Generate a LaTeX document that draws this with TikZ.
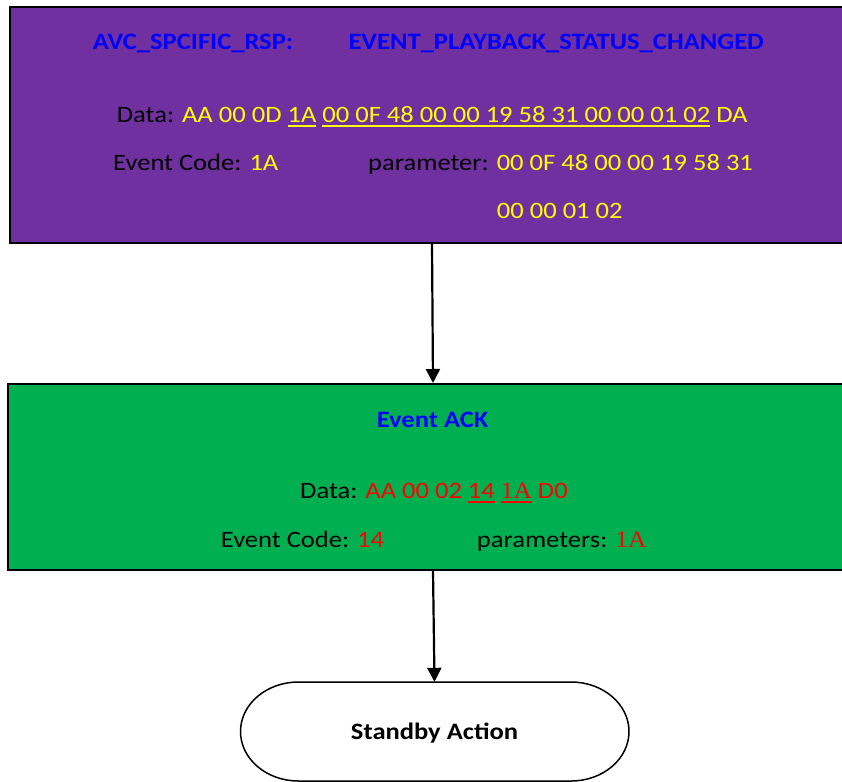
\documentclass[tikz,border=0pt]{standalone}
\usepackage{fontspec}
\setmainfont{Carlito}[FakeStretch=1.13]
\newfontfamily\tnr{Liberation Serif}[FakeStretch=1.08]
\usetikzlibrary{arrows.meta}
\definecolor{boxpurple}{HTML}{7030A0}
\definecolor{boxgreen}{HTML}{00B050}
\definecolor{txtyellow}{HTML}{FFFF00}
\definecolor{txtred}{HTML}{FF0000}
\definecolor{txtblue}{HTML}{0000FF}
\newcommand\sz{\fontsize{23.5}{28}\selectfont}
\newcommand\myul[2]{\setbox0\hbox{#2}\rlap{\color{#1}\rule[-5pt]{\wd0}{2.2pt}}\box0\relax}
\begin{document}
\begin{tikzpicture}[x=1pt,y=-1pt,
  boxpanel/.style={draw=black, line width=2pt, rectangle, inner sep=0pt, anchor=north},
  txt/.style={anchor=base west, inner sep=0pt, font=\sz},
  btxt/.style={txt, font=\sz\bfseries},
  conn/.style={line width=2.2pt, -{Triangle[length=14pt,width=14pt]}}]
\useasboundingbox (0,0) rectangle (842,781);
\clip (0,0) rectangle (842,781);
% boxes
\node[boxpanel, fill=boxpurple, minimum width=844pt, minimum height=236pt] (rsp) at (432,6) {};
\node[boxpanel, fill=boxgreen, minimum width=850pt, minimum height=186pt] (ack) at (433,383) {};
% terminator
\draw[line width=1.5pt, fill=white] (298.5,682) -- (571,682)
  arc[start angle=90, end angle=-90, x radius=58pt, y radius=49.5pt]
  -- (298.5,781)
  arc[start angle=270, end angle=90, x radius=58pt, y radius=49.5pt] -- cycle;
\node[inner sep=0pt, minimum width=389pt, minimum height=99pt, text height=16pt, text depth=0pt, font=\sz\bfseries] (sa) at (434.5,731.5) {Standby Action};
% connectors
\draw[conn] (rsp.south) -- (ack.north);
\draw[conn] (ack.south) -- (sa.north);
% purple texts
\node[btxt, text=txtblue] (t1) at (92.7,50) {AVC\_SPCIFIC\_RSP:};
\node[btxt, text=txtblue] (t2) at (348.3,50) {EVENT\_PLAYBACK\_STATUS\_CHANGED};
\node[txt] (t3) at (116.7,122) {Data: {\color{txtyellow}AA 00 0D \myul{txtyellow}{1A} \myul{txtyellow}{00 0F 48 00 00 19 58 31 00 00 01 02} DA}};
\node[txt] (t4) at (113,170) {Event Code: {\color{txtyellow}1A}};
\node[txt] (t5) at (368,170) {parameter: {\color{txtyellow}00 0F 48 00 00 19 58 31}};
\node[txt, text=txtyellow] (t6) at (496.7,218) {00 00 01 02};
% green texts
\node[btxt, text=txtblue] (t7) at (376.7,427) {Event ACK};
\node[txt] (t8) at (300,498) {Data: {\color{txtred}AA 00 02 \myul{txtred}{14} \myul{txtred}{\tnr 1A} D0}};
\node[txt] (t9) at (220.7,547) {Event Code: {\color{txtred}14}};
\node[txt] (t10) at (476.7,547) {parameters: {\color{txtred}\tnr 1A}};
\end{tikzpicture}
\end{document}
